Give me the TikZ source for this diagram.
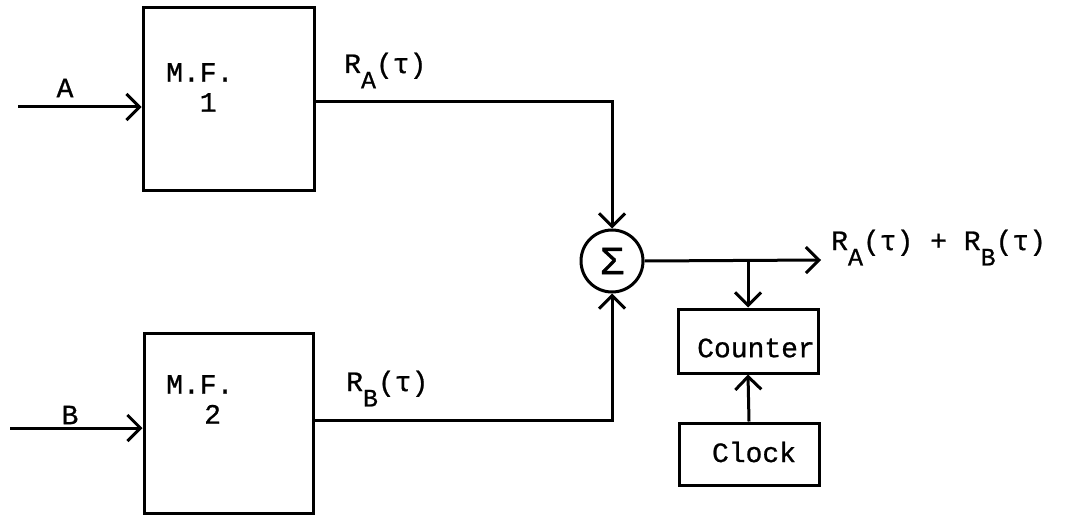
\documentclass[tikz,border=0pt]{standalone}
\usepackage{fontspec}
\setmainfont[FakeBold=0.8]{Liberation Mono}
\usetikzlibrary{arrows.meta}
\newcommand\Rsub[1]{R\raisebox{-0.55em}{\fontsize{25}{25}\selectfont #1}}
\tikzset{
  line/.style={line width=3pt},
  arr/.style={line, -{Straight Barb[length=13pt,width=26pt,line width=3pt]}},
  blk/.style={draw, line width=3pt, rectangle, inner sep=0pt},
  txt/.style={font=\fontsize{28}{32}\selectfont, inner sep=0pt},
}
\begin{document}
\begin{tikzpicture}[x=1pt,y=-1pt]
\useasboundingbox (0,0) rectangle (1075,516);
% blocks
\node[blk, minimum width=171pt, minimum height=182pt] (mf1) at (228.5,99) {};
\node[blk, minimum width=169pt, minimum height=180pt] (mf2) at (228.5,423) {};
\node[blk, circle, minimum size=62pt] (sum) at (612,261) {};
\node[txt, font=\fontsize{40}{40}\selectfont] (sig) at (sum.center) {Σ};
\node[blk, minimum width=140pt, minimum height=64pt] (counter) at (748,341) {};
\node[blk, minimum width=140pt, minimum height=62pt] (clock) at (749,454) {};
% texts
\node[txt, font=\fontsize{28}{30}\selectfont, align=left, anchor=north west] (mf1t) at (166,63) {M.F.\\\hspace*{33.6pt}1};
\node[txt, font=\fontsize{28}{30}\selectfont, align=left, anchor=north west] (mf2t) at (166,375) {M.F.\\\hspace*{38pt}2};
\node[txt] (ctext) at (756,348) {Counter};
\node[txt] (cltext) at (754,452) {Clock};
\node[txt] (la) at (65,88) {A};
\node[txt] (lb) at (70,415) {B};
\node[txt, anchor=base west] (ra) at (344,73) {\Rsub{A}(τ)};
\node[txt, anchor=base west] (rb) at (346,391) {\Rsub{B}(τ)};
% coordinates
\coordinate (inA) at (18,107);
\coordinate (inB) at (10,428);
\coordinate (out) at (821,260);
\coordinate (o1) at (314,102);
\coordinate (o2) at (313,420);
\node[txt, anchor=base west] (rsum) at (831,250) {\Rsub{A}(τ) + \Rsub{B}(τ)};
% connectors
\draw[arr] (inA) -- (inA -| mf1.west);
\draw[arr] (inB) -- (inB -| mf2.west);
\draw[arr] (o1) -| (sum.north);
\draw[arr] (o2) -| (sum.south);
\draw[arr] (sum.east) -- (out);
\draw[arr] (counter.north |- sum.east) -- (counter.north);
\draw[arr] (clock.north) -- (counter.south);
\end{tikzpicture}
\end{document}
